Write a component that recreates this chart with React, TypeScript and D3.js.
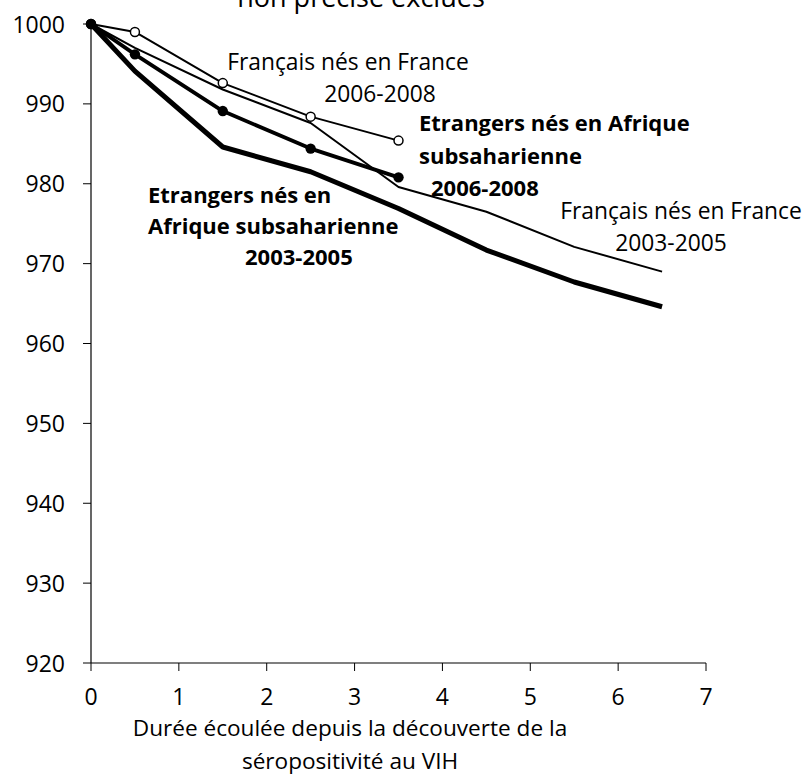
import React from "react";
import * as d3 from "d3";

const yearsLong = [0, 0.5, 1.5, 2.5, 3.5, 4.5, 5.5, 6.5];
const yearsShort = [0, 0.5, 1.5, 2.5, 3.5];
const francais0305 = [1000, 997.0, 991.8, 987.6, 979.6, 976.5, 972.1, 969.0];
const etrangers0305 = [1000, 994.1, 984.6, 981.5, 976.9, 971.7, 967.7, 964.6];
const francais0608 = [1000, 999.0, 992.6, 988.4, 985.4];
const etrangers0608 = [1000, 996.2, 989.1, 984.4, 980.8];
const xTicks = [0, 1, 2, 3, 4, 5, 6, 7];
const yTicks = [920, 930, 940, 950, 960, 970, 980, 990, 1000];

const W = 803;
const H = 776;
const FONT = "'Open Sans', sans-serif";

export default function App() {
  const x = d3.scaleLinear().domain([0, 7]).range([91, 706]);
  const y = d3.scaleLinear().domain([920, 1000]).range([663, 24]);
  const line = d3
    .line<[number, number]>()
    .x((d) => x(d[0]))
    .y((d) => y(d[1]));
  const zip = (xs: number[], ys: number[]) =>
    xs.map((v, i) => [v, ys[i]] as [number, number]);

  const f0305 = zip(yearsLong, francais0305);
  const e0305 = zip(yearsLong, etrangers0305);
  const f0608 = zip(yearsShort, francais0608);
  const e0608 = zip(yearsShort, etrangers0608);

  return (
    <div style={{ position: "absolute", left: 0, top: 0 }}>
      <svg width={W} height={H} style={{ display: "block", background: "#fff" }} fontFamily={FONT}>
        <rect width={W} height={H} fill="#fff" />
        {/* title (cropped at the top, as in the reference) */}
        <text x={361} y={7} textAnchor="middle" fontSize={27} fill="#000">
          non précise exclues
        </text>

        {/* axes */}
        <line x1={x(0)} x2={x(0)} y1={y(1000)} y2={y(920)} stroke="#000" strokeWidth={1.2} />
        <line x1={x(0)} x2={x(7)} y1={y(920)} y2={y(920)} stroke="#000" strokeWidth={1.2} />
        {yTicks.map((t) => (
          <g key={"y" + t}>
            <line x1={x(0) - 8} x2={x(0)} y1={y(t)} y2={y(t)} stroke="#000" strokeWidth={1} />
            <text x={65} y={y(t) + 8.5} textAnchor="end" fontSize={23} fill="#000">
              {t}
            </text>
          </g>
        ))}
        {xTicks.map((t) => (
          <g key={"x" + t}>
            <line x1={x(t)} x2={x(t)} y1={y(920)} y2={y(920) + 8} stroke="#000" strokeWidth={1} />
            <text x={x(t)} y={705} textAnchor="middle" fontSize={23} fill="#000">
              {t}
            </text>
          </g>
        ))}
        <text x={350} y={736} textAnchor="middle" fontSize={22.6} fill="#000">
          Durée écoulée depuis la découverte de la
        </text>
        <text x={350} y={769} textAnchor="middle" fontSize={22.6} fill="#000">
          séropositivité au VIH
        </text>

        {/* series */}
        <path d={line(e0305) || ""} fill="none" stroke="#000" strokeWidth={5} strokeLinejoin="round" />
        <path d={line(f0305) || ""} fill="none" stroke="#000" strokeWidth={2} strokeLinejoin="round" />
        <path d={line(f0608) || ""} fill="none" stroke="#000" strokeWidth={2} strokeLinejoin="round" />
        {f0608.map((d, i) => (
          <circle key={"f" + i} cx={x(d[0])} cy={y(d[1])} r={4.5} fill="#fff" stroke="#000" strokeWidth={1.5} />
        ))}
        <path d={line(e0608) || ""} fill="none" stroke="#000" strokeWidth={3.8} strokeLinejoin="round" />
        {e0608.map((d, i) => (
          <circle key={"e" + i} cx={x(d[0])} cy={y(d[1])} r={5.2} fill="#000" />
        ))}

        {/* labels */}
        <text x={348} y={70} textAnchor="middle" fontSize={22.8} fill="#000">
          Français nés en France
        </text>
        <text x={380} y={102} textAnchor="middle" fontSize={22.8} fill="#000">
          2006-2008
        </text>

        <text x={419} y={131} fontSize={22} fontWeight="bold" fill="#000">
          Etrangers nés en Afrique
        </text>
        <text x={419} y={164} fontSize={22} fontWeight="bold" fill="#000">
          subsaharienne
        </text>
        <text x={431} y={196} fontSize={22} fontWeight="bold" fill="#000">
          2006-2008
        </text>

        <text x={681} y={219} textAnchor="middle" fontSize={22.8} fill="#000">
          Français nés en France
        </text>
        <text x={671} y={251} textAnchor="middle" fontSize={22.8} fill="#000">
          2003-2005
        </text>

        <text x={148} y={203} fontSize={22} fontWeight="bold" fill="#000">
          Etrangers nés en
        </text>
        <text x={148} y={234} fontSize={22} fontWeight="bold" fill="#000">
          Afrique subsaharienne
        </text>
        <text x={245} y={265} fontSize={22} fontWeight="bold" fill="#000">
          2003-2005
        </text>
      </svg>
    </div>
  );
}
